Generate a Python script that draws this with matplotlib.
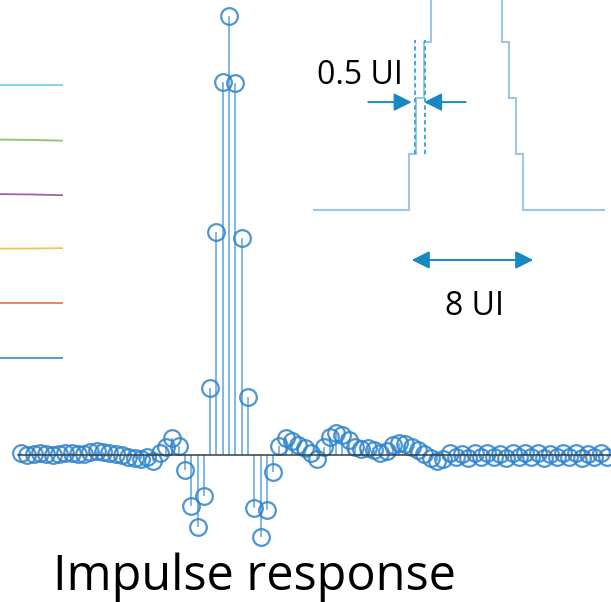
import numpy as np
import matplotlib
matplotlib.use("Agg")
import matplotlib.pyplot as plt
from matplotlib.patches import FancyArrowPatch

plt.rcParams['font.family'] = ['Open Sans', 'DejaVu Sans']

# ---------------- data ----------------
# sampled impulse response (peak-normalised), sample index relative to the main cursor
sample_index = np.arange(-33, 61)
impulse_amp = np.array([
    # n = -33 .. -12
    0.004, 0.001, 0.003, 0.005, 0.003, 0.001, 0.003, 0.005, 0.004, 0.002,
    0.003, 0.006, 0.008, 0.007, 0.005, 0.002, -0.001, -0.004, -0.007, -0.008,
    -0.005, -0.014,
    # n = -11 .. -1
    0.005, 0.018, 0.039, 0.020, -0.034, -0.116, -0.164, -0.093, 0.153, 0.508, 0.850,
    # n = 0 (main cursor)
    1.000,
    # n = 1 .. 14
    0.847, 0.494, 0.132, -0.121, -0.187, -0.125, -0.039, 0.020, 0.039, 0.032,
    0.023, 0.016, 0.005, -0.009,
    # n = 15 .. 34
    0.018, 0.041, 0.050, 0.046, 0.034, 0.018, 0.014, 0.016, 0.011, 0.005,
    0.009, 0.023, 0.027, 0.025, 0.018, 0.011, 0.002, -0.007, -0.014, -0.009,
    # n = 35 .. 60
    0.004, -0.005, 0.003, -0.006, 0.004, -0.004, 0.005, -0.005, 0.003, -0.006,
    0.004, -0.004, 0.005, -0.005, 0.004, -0.006, 0.003, -0.004, 0.005, -0.005,
    0.004, -0.006, 0.003, -0.004, 0.004, -0.005,
])

# stair-step (oversampled) pulse, in UI
stair_edges_ui = [-6.78, 0.0, 0.5, 1.0, 1.5, 6.5, 7.0, 7.5, 8.0, 13.73]
stair_levels = [0, 1, 2, 3, 4, 3, 2, 1, 0]
half_ui_marks = [0.4, 1.1]
half_ui_span = (1.0, 3.04)
half_ui_arrow_y = 1.93
half_ui_arrows = [(-2.88, 0.17), (3.96, 1.03)]
eight_ui_arrow = (0.17, 8.7)
eight_ui_arrow_y = -0.894

# waveform traces at left (one per colour)
trace_colors = ['#0072BD', '#D95319', '#EDB120', '#7E2F8E', '#77AC30', '#4DBEEE']
trace_levels = [0, 1, 2, 3, 4, 5]
trace_drift = [0.0, 0.0, -0.01, 0.02, 0.02, 0.0]

W, H = 611, 602
fig = plt.figure(figsize=(W / 100, H / 100), dpi=100)

# ---------------- impulse response stem plot ----------------
ax = fig.add_axes([0, 0, 1, 1])
px_per_sample = 6.3
px_per_unit = 439.0
x0_px, y0_px = 229.0, 455.0
ax.set_xlim(-x0_px / px_per_sample, (W - x0_px) / px_per_sample)
ax.set_ylim(-(H - y0_px) / px_per_unit, y0_px / px_per_unit)
ax.axis('off')

markerline, stemlines, baseline = ax.stem(sample_index, impulse_amp, basefmt=' ')
stemlines.set_color('#5ea4dc')
stemlines.set_linewidth(1.3)
stemlines.set_alpha(0.85)
markerline.set_marker('o')
markerline.set_markersize(12)
markerline.set_markerfacecolor('none')
markerline.set_markeredgecolor('#2f84cc')
markerline.set_markeredgewidth(1.6)
markerline.set_alpha(0.85)
ax.plot([-33.45, 62], [0, 0], color='#3a3a3a', lw=1.1, zorder=5)

# ---------------- pulse sketch (top right) ----------------
ax2 = fig.add_axes([0, 0, 1, 1])
px_per_ui = 14.25
px_per_level = 55.9
ui0_px, lvl0_px = 409.3, 210.0
ax2.set_xlim(-ui0_px / px_per_ui, (W - ui0_px) / px_per_ui)
ax2.set_ylim(-(H - lvl0_px) / px_per_level, lvl0_px / px_per_level)
ax2.axis('off')
ax2.patch.set_alpha(0)

ax2.stairs(stair_levels, stair_edges_ui, baseline=None, color='#9cc7e8', lw=1.5)
for xm in half_ui_marks:
    ax2.plot([xm, xm], half_ui_span, color='#3ea9dc', lw=1.4,
             linestyle=(0, (2.2, 1.6)))

arrow_color = '#1689c2'
for tail, tip in half_ui_arrows:
    ax2.add_patch(FancyArrowPatch((tail, half_ui_arrow_y), (tip, half_ui_arrow_y),
                                  arrowstyle='-|>,head_length=10.8,head_width=5.4',
                                  mutation_scale=1, color=arrow_color, lw=1.4,
                                  shrinkA=0, shrinkB=0))
ax2.add_patch(FancyArrowPatch((eight_ui_arrow[0], eight_ui_arrow_y),
                              (eight_ui_arrow[1], eight_ui_arrow_y),
                              arrowstyle='<|-|>,head_length=10.8,head_width=5.4',
                              mutation_scale=1, color=arrow_color, lw=1.4,
                              shrinkA=0, shrinkB=0))

fig.text(317 / W, 1 - 84.5 / H, '0.5 UI', fontsize=23, color='black',
         ha='left', va='baseline')
fig.text(445 / W, 1 - 315 / H, '8 UI', fontsize=23, color='black',
         ha='left', va='baseline')

# ---------------- colour traces (left) ----------------
ax3 = fig.add_axes([0, 217 / H, 62.7 / W, 327.2 / H])
ax3.set_xlim(0, 1)
ax3.set_ylim(-0.5, 5.5)
ax3.axis('off')
ax3.patch.set_alpha(0)
for c, lvl, d in zip(trace_colors, trace_levels, trace_drift):
    ax3.plot([0, 0.5, 1], [lvl, lvl - d * 0.3, lvl - d], color=c, lw=1.3, alpha=0.75)

fig.text(53 / W, 1 - 590 / H, 'Impulse response', fontsize=35, color='black',
         ha='left', va='baseline')

fig.savefig('out.png', dpi=100)
